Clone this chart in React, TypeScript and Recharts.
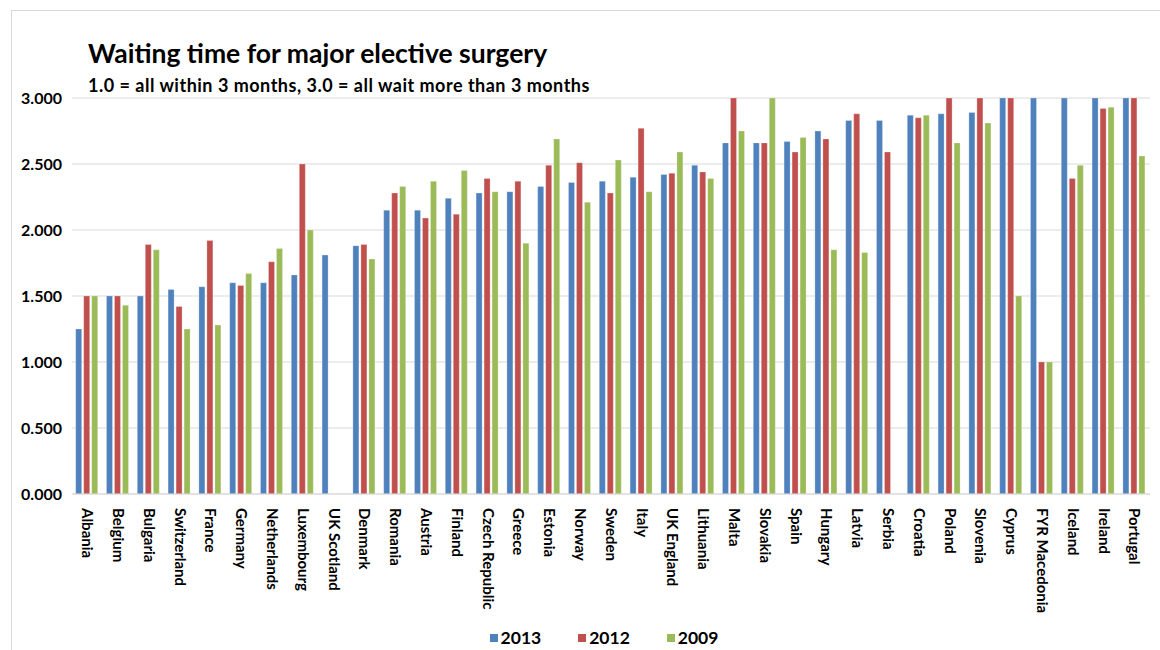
import { BarChart, Bar, XAxis, YAxis, CartesianGrid, Legend } from "recharts";

const countries = [
  "Albania", "Belgium", "Bulgaria", "Switzerland", "France", "Germany",
  "Netherlands", "Luxembourg", "UK Scotland", "Denmark", "Romania", "Austria",
  "Finland", "Czech Republic", "Greece", "Estonia", "Norway", "Sweden",
  "Italy", "UK England", "Lithuania", "Malta", "Slovakia", "Spain",
  "Hungary", "Latvia", "Serbia", "Croatia", "Poland", "Slovenia",
  "Cyprus", "FYR Macedonia", "Iceland", "Ireland", "Portugal",
];

const y2013 = [
  1.25, 1.5, 1.5, 1.55, 1.57, 1.6, 1.6, 1.66, 1.81, 1.88, 2.15, 2.15,
  2.24, 2.28, 2.29, 2.33, 2.36, 2.37, 2.4, 2.42, 2.49, 2.66, 2.66, 2.67,
  2.75, 2.83, 2.83, 2.87, 2.88, 2.89, 3.0, 3.0, 3.0, 3.0, 3.0,
];

const y2012 = [
  1.5, 1.5, 1.89, 1.42, 1.92, 1.58, 1.76, 2.5, null, 1.89, 2.28, 2.09,
  2.12, 2.39, 2.37, 2.49, 2.51, 2.28, 2.77, 2.43, 2.44, 3.0, 2.66, 2.59,
  2.69, 2.88, 2.59, 2.85, 3.0, 3.0, 3.0, 1.0, 2.39, 2.92, 3.0,
];

const y2009 = [
  1.5, 1.43, 1.85, 1.25, 1.28, 1.67, 1.86, 2.0, null, 1.78, 2.33, 2.37,
  2.45, 2.29, 1.9, 2.69, 2.21, 2.53, 2.29, 2.59, 2.39, 2.75, 3.0, 2.7,
  1.85, 1.83, null, 2.87, 2.66, 2.81, 1.5, 1.0, 2.49, 2.93, 2.56,
];

const yTicks = [0, 0.5, 1, 1.5, 2, 2.5, 3];

const series = [
  { key: "y2013", name: "2013", color: "#4F81BD" },
  { key: "y2012", name: "2012", color: "#C0504D" },
  { key: "y2009", name: "2009", color: "#9BBB59" },
];

const data = countries.map((country, i) => ({
  country,
  y2013: y2013[i],
  y2012: y2012[i],
  y2009: y2009[i],
}));

const FONT = "Lato, 'Liberation Sans', sans-serif";

const CountryTick = (props: any) => {
  const { x, y, payload } = props;
  return (
    <text
      x={x}
      y={y + 6}
      transform={`rotate(90, ${x}, ${y + 6})`}
      textAnchor="start"
      dy="0.35em"
      fontSize={15}
      fontWeight={700}
      fontFamily={FONT}
      fill="#000"
    >
      {payload.value}
    </text>
  );
};

const YearLegend = () => (
  <div
    style={{
      display: "flex",
      justifyContent: "center",
      gap: 37,
      fontFamily: FONT,
      fontWeight: 700,
      fontSize: 17.5,
      color: "#000",
      paddingLeft: 58,
    }}
  >
    {series.map((s) => (
      <span key={s.key} style={{ display: "flex", alignItems: "center" }}>
        <span
          style={{
            width: 8,
            height: 8,
            background: s.color,
            display: "inline-block",
            marginRight: 3,
          }}
        />
        {s.name}
      </span>
    ))}
  </div>
);

export default function App() {
  return (
    <div
      style={{
        position: "absolute",
        left: 0,
        top: 0,
        width: 1160,
        height: 650,
        background: "#fff",
        overflow: "hidden",
      }}
    >
      <div
        style={{
          position: "absolute",
          left: 11,
          top: 10,
          right: -2,
          bottom: -2,
          borderTop: "1px solid #d9d9d9",
          borderLeft: "1px solid #d9d9d9",
        }}
      />
      <div
        style={{
          position: "absolute",
          left: 88,
          top: 37,
          fontFamily: FONT,
          fontWeight: 700,
          fontSize: 26.5,
          color: "#000",
          whiteSpace: "nowrap",
        }}
      >
        Waiting time for major elective surgery
      </div>
      <div
        style={{
          position: "absolute",
          left: 88,
          top: 74,
          fontFamily: FONT,
          fontWeight: 700,
          fontSize: 18,
          letterSpacing: 0.5,
          color: "#000",
          whiteSpace: "nowrap",
        }}
      >
        1.0 = all within 3 months, 3.0 = all wait more than 3 months
      </div>
      <div style={{ position: "absolute", left: 0, top: 0 }}>
        <BarChart
          width={1160}
          height={650}
          data={data}
          margin={{ top: 98, right: 10, bottom: 8, left: 0 }}
          barCategoryGap="12%"
          barGap={2}
        >
          <CartesianGrid vertical={false} stroke="#d9d9d9" />
          <XAxis
            dataKey="country"
            interval={0}
            height={118}
            tickLine={false}
            axisLine={{ stroke: "#d9d9d9" }}
            tick={<CountryTick />}
          />
          <YAxis
            width={72}
            domain={[0, 3]}
            ticks={yTicks}
            axisLine={false}
            tickLine={false}
            tickSize={0}
            tickMargin={10}
            tickFormatter={(v: number) => v.toFixed(3)}
            tick={{ fontSize: 16, fontWeight: 700, fill: "#000", fontFamily: FONT }}
          />
          <Legend
            verticalAlign="bottom"
            height={30}
            wrapperStyle={{ bottom: -7 }}
            content={<YearLegend />}
          />
          {series.map((s) => (
            <Bar
              key={s.key}
              dataKey={s.key}
              name={s.name}
              fill={s.color}
              stroke="#ffffff"
              strokeOpacity={0.5}
              strokeWidth={0.5}
              isAnimationActive={false}
            />
          ))}
        </BarChart>
      </div>
    </div>
  );
}
